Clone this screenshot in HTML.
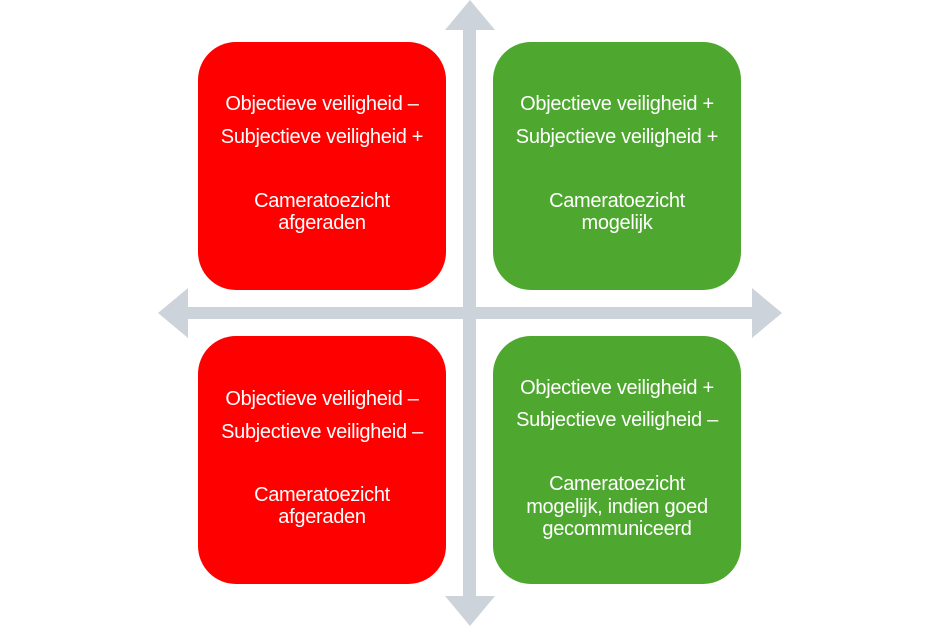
<!DOCTYPE html>
<html><head><meta charset="utf-8"><style>
body{margin:0;width:939px;height:626px;background:#fff;position:relative;overflow:hidden;font-family:"Liberation Sans",sans-serif}
.b{position:absolute;width:248px;height:248px;border-radius:38px}
.r{background:#ff0000}.g{background:#4ea72e}
.t{position:absolute;width:248px;text-align:center;color:#fff;font-size:20px;letter-spacing:-0.3px;line-height:22px;white-space:nowrap}
svg{position:absolute;left:0;top:0}
</style></head><body>
<div class="b r" style="left:198px;top:42px"></div>
<div class="b g" style="left:493px;top:42px"></div>
<div class="b r" style="left:198px;top:336px"></div>
<div class="b g" style="left:493px;top:336px"></div>
<svg width="939" height="626">
<g fill="#cdd3da">
<rect x="463" y="28" width="13" height="570"/>
<polygon points="470,0 445,30 495,30"/>
<polygon points="470,626 445,596 495,596"/>
<rect x="186" y="307" width="568" height="12"/>
<polygon points="158,313 188,288 188,338"/>
<polygon points="782,313 752,288 752,338"/>
</g></svg>
<div class="t" style="left:198px;top:93px">Objectieve veiligheid –</div>
<div class="t" style="left:198px;top:126px">Subjectieve veiligheid +</div>
<div class="t" style="left:198px;top:190px">Cameratoezicht<br>afgeraden</div>
<div class="t" style="left:493px;top:93px">Objectieve veiligheid +</div>
<div class="t" style="left:493px;top:126px">Subjectieve veiligheid +</div>
<div class="t" style="left:493px;top:190px">Cameratoezicht<br>mogelijk</div>
<div class="t" style="left:198px;top:388px">Objectieve veiligheid –</div>
<div class="t" style="left:198px;top:421px">Subjectieve veiligheid –</div>
<div class="t" style="left:198px;top:484px">Cameratoezicht<br>afgeraden</div>
<div class="t" style="left:493px;top:377px">Objectieve veiligheid +</div>
<div class="t" style="left:493px;top:409px">Subjectieve veiligheid –</div>
<div class="t" style="left:493px;top:473px;line-height:22.5px">Cameratoezicht<br>mogelijk, indien goed<br>gecommuniceerd</div>
</body></html>
